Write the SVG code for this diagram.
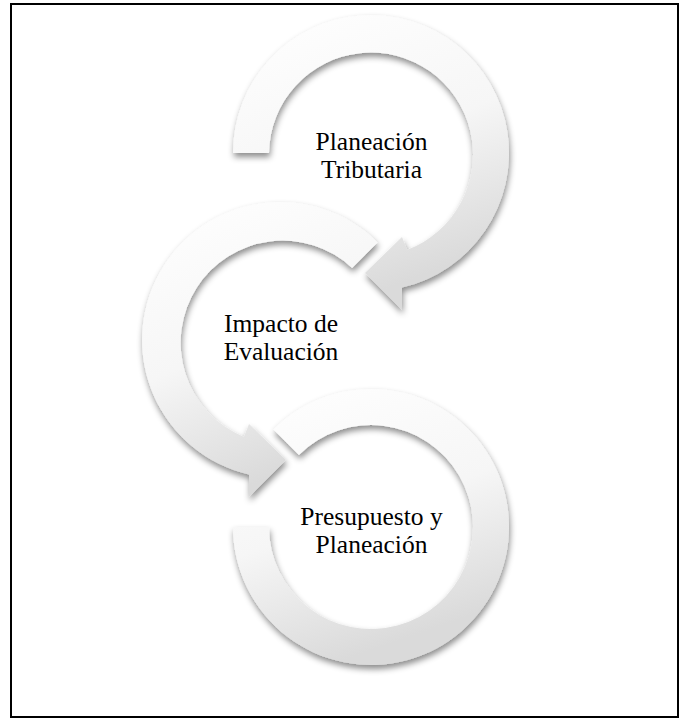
<svg xmlns="http://www.w3.org/2000/svg" width="686" height="724" viewBox="0 0 686 724">
  <defs>
    <linearGradient id="g" x1="0" y1="0" x2="0.35" y2="1">
      <stop offset="0" stop-color="#ffffff"/>
      <stop offset="0.55" stop-color="#f6f6f6"/>
      <stop offset="1" stop-color="#dadada"/>
    </linearGradient>
    <filter id="sh" x="-20%" y="-20%" width="140%" height="140%">
      <feGaussianBlur in="SourceAlpha" stdDeviation="3"/>
      <feOffset dx="1" dy="4" result="b"/>
      <feFlood flood-color="#000" flood-opacity="0.45"/>
      <feComposite in2="b" operator="in"/>
      <feMerge>
        <feMergeNode/>
        <feMergeNode in="SourceGraphic"/>
      </feMerge>
    </filter>
  </defs>
  <style>
    .arrow { fill: url(#g); filter: url(#sh); }
    .lbl { font-family: "Liberation Serif", "Times New Roman", serif; font-size: 25.5px; fill: #000; text-anchor: middle; }
    .frame { fill: none; stroke: #000; stroke-width: 2; }
  </style>
  <rect class="frame" x="11" y="4" width="667" height="713"/>
  <g id="node3">
    <path class="arrow" d="M 273.4 429.4 A 138 138 0 1 1 233 527 L 269 527 A 102 102 0 1 0 298.9 454.9 Z"/>
    <text class="lbl" x="371.5" y="524.5">Presupuesto y</text>
    <text class="lbl" x="371.5" y="553">Planeación</text>
  </g>
  <g id="node2">
    <path class="arrow" d="M 377.6 242.4 A 138 138 0 1 0 249 474.5 L 249 497 L 286 460 L 249 424 L 244 437 A 102 102 0 1 1 352.1 267.9 Z"/>
    <text class="lbl" x="281" y="331.5">Impacto de</text>
    <text class="lbl" x="281" y="360">Evaluación</text>
  </g>
  <g id="node1">
    <path class="arrow" d="M 233 153 A 138 138 0 1 1 402 287.5 L 402 310 L 365 273 L 402 237 L 407 250 A 102 102 0 1 0 269 153 Z"/>
    <text class="lbl" x="371.5" y="149.5">Planeación</text>
    <text class="lbl" x="371.5" y="178">Tributaria</text>
  </g>
</svg>
